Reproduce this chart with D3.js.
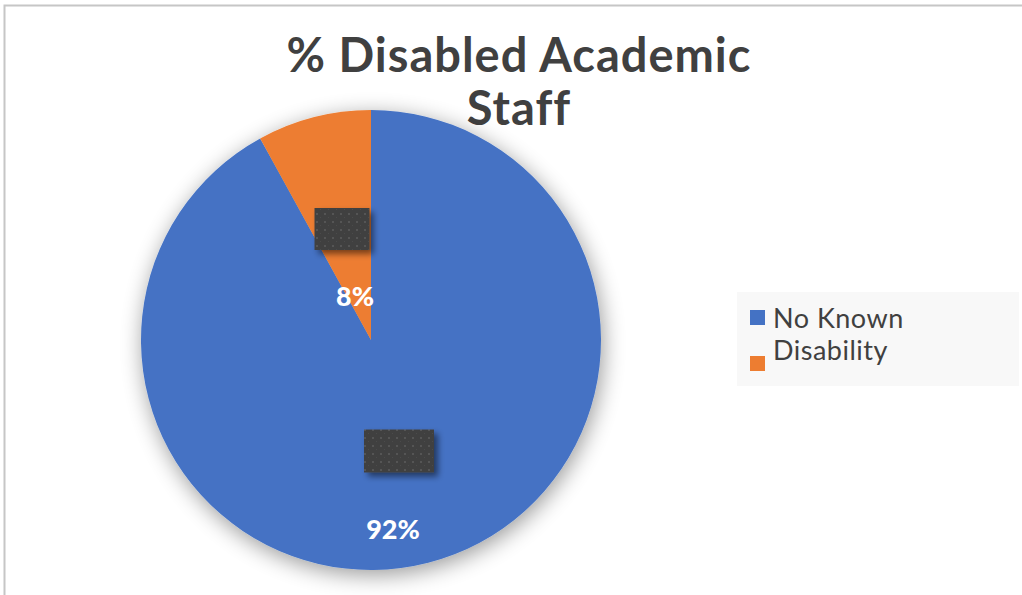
<!DOCTYPE html>
<html>
<head>
<meta charset="utf-8">
<script src="https://cdn.jsdelivr.net/npm/d3@7"></script>
<style>
  html, body { margin: 0; padding: 0; background: #fff; }
  svg { display: block; }
</style>
</head>
<body>
<svg id="chart" width="1022" height="595"></svg>
<script>
// Share of academic staff by disability status (percent)
const categories = ["No Known Disability", "Disability"];
const values = [92, 8];
const sliceColors = ["#4472C4", "#ED7D31"];
const legendLabels = ["No Known", "Disability"];
const titleLines = ["% Disabled Academic", "Staff"];

const svg = d3.select("#chart");
const W = 1022, H = 595;
const cx = 371, cy = 340, radius = 230;

const defs = svg.append("defs");

// soft shadow under the pie
const shadow = defs.append("filter").attr("id", "pieShadow")
  .attr("x", "-25%").attr("y", "-25%").attr("width", "150%").attr("height", "150%");
shadow.append("feGaussianBlur").attr("in", "SourceAlpha").attr("stdDeviation", 11).attr("result", "b");
shadow.append("feOffset").attr("in", "b").attr("dx", 2).attr("dy", 5).attr("result", "o");
shadow.append("feComponentTransfer").attr("in", "o").attr("result", "s")
  .append("feFuncA").attr("type", "linear").attr("slope", 0.4);
const m = shadow.append("feMerge");
m.append("feMergeNode").attr("in", "s");
m.append("feMergeNode").attr("in", "SourceGraphic");

// small shadow for the dark label boxes
const boxShadow = defs.append("filter").attr("id", "boxShadow")
  .attr("x", "-30%").attr("y", "-30%").attr("width", "170%").attr("height", "170%");
boxShadow.append("feGaussianBlur").attr("in", "SourceAlpha").attr("stdDeviation", 3).attr("result", "b");
boxShadow.append("feOffset").attr("in", "b").attr("dx", 4).attr("dy", 4).attr("result", "o");
boxShadow.append("feComponentTransfer").attr("in", "o").attr("result", "s")
  .append("feFuncA").attr("type", "linear").attr("slope", 0.5);
const m2 = boxShadow.append("feMerge");
m2.append("feMergeNode").attr("in", "s");
m2.append("feMergeNode").attr("in", "SourceGraphic");

// dotted texture for the label boxes
const pat = defs.append("pattern").attr("id", "dots")
  .attr("width", 8).attr("height", 8).attr("patternUnits", "userSpaceOnUse");
pat.append("rect").attr("width", 8).attr("height", 8).attr("fill", "#404040");
pat.append("rect").attr("x", 1).attr("y", 1).attr("width", 2).attr("height", 2).attr("fill", "#555");
pat.append("rect").attr("x", 5).attr("y", 5).attr("width", 1).attr("height", 1).attr("fill", "#4c4c4c");

// chart frame
svg.append("path")
  .attr("d", `M4.5,${H} V5.5 H${W}`)
  .attr("fill", "none").attr("stroke", "#c6c6c6").attr("stroke-width", 2);

// title
svg.append("text")
  .attr("x", 519).attr("y", 72)
  .attr("text-anchor", "middle")
  .attr("font-family", "Lato, 'Open Sans', sans-serif")
  .attr("font-weight", "bold").attr("font-size", 47)
  .attr("letter-spacing", 1)
  .attr("fill", "#404040")
  .selectAll("tspan").data(titleLines).join("tspan")
  .attr("x", 519).attr("dy", (d, i) => i === 0 ? 0 : 53)
  .text(d => d);

// pie
const pie = d3.pie().sort(null).value(d => d)(values);
const arc = d3.arc().innerRadius(0).outerRadius(radius);

const g = svg.append("g").attr("transform", `translate(${cx},${cy})`);
g.append("g").attr("filter", "url(#pieShadow)")
  .selectAll("path").data(pie).join("path")
  .attr("d", arc)
  .attr("fill", (d, i) => sliceColors[i]);

// dark label boxes and percentage labels
const boxSizes = [[70, 43], [55, 42]];
const boxPos = [[28, 111], [-29, -111]];
const labelPos = [[22, 192], [-16, -41]];

pie.forEach((d, i) => {
  g.append("rect")
    .attr("x", boxPos[i][0] - boxSizes[i][0] / 2)
    .attr("y", boxPos[i][1] - boxSizes[i][1] / 2)
    .attr("width", boxSizes[i][0]).attr("height", boxSizes[i][1])
    .attr("fill", "url(#dots)")
    .attr("filter", "url(#boxShadow)");
  g.append("text")
    .attr("x", labelPos[i][0]).attr("y", labelPos[i][1])
    .attr("text-anchor", "middle")
    .attr("dominant-baseline", "middle")
    .attr("font-family", "Lato, 'Open Sans', sans-serif")
    .attr("font-weight", "900").attr("font-size", 27)
    .attr("fill", "#fff")
    .text(d3.format(".0f")(d.value / d3.sum(values) * 100) + "%");
});

// legend
const lg = svg.append("g");
lg.append("rect").attr("x", 737).attr("y", 292).attr("width", 282).attr("height", 94).attr("fill", "#f8f8f8");
const legendY = [[310, 328], [356, 360]];
legendLabels.forEach((lbl, i) => {
  lg.append("rect")
    .attr("x", 750).attr("y", legendY[i][0]).attr("width", 15).attr("height", 15)
    .attr("fill", sliceColors[i]);
  lg.append("text")
    .attr("x", 773).attr("y", legendY[i][1])
    .attr("font-family", "Lato, 'Open Sans', sans-serif")
    .attr("font-size", 27).attr("letter-spacing", 0.5).attr("fill", "#404040")
    .text(lbl);
});
</script>
</body>
</html>
